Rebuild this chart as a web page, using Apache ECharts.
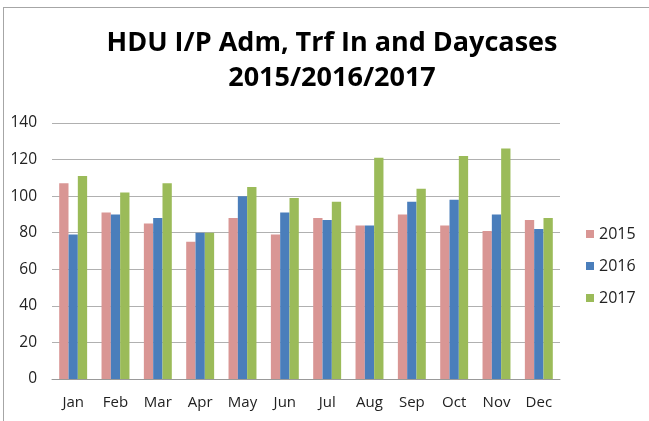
<!DOCTYPE html>
<html>
<head>
<meta charset="utf-8">
<script src="https://cdn.jsdelivr.net/npm/echarts@6/dist/echarts.min.js"></script>
<style>
  html, body { margin: 0; padding: 0; background: #fff; }
  #frame { position: absolute; left: 3px; top: 7px; width: 660px; height: 430px;
           border-left: 1px solid #a6a6a6; border-top: 1px solid #a6a6a6; }
  #chart { position: absolute; left: 0; top: 0; width: 649px; height: 421px; }
</style>
</head>
<body>
<div id="frame"></div>
<div id="chart"></div>
<script>
var months = ['Jan', 'Feb', 'Mar', 'Apr', 'May', 'Jun', 'Jul', 'Aug', 'Sep', 'Oct', 'Nov', 'Dec'];
var y2015 = [107, 91, 85, 75, 88, 79, 88, 84, 90, 84, 81, 87];
var y2016 = [79, 90, 88, 80, 100, 91, 87, 84, 97, 98, 90, 82];
var y2017 = [111, 102, 107, 80, 105, 99, 97, 121, 104, 122, 126, 88];

var chart = echarts.init(document.getElementById('chart'));
var font = '"Open Sans", sans-serif';

/* one bar series per year */
function bars(name, data, color) {
  return {
    name: name,
    type: 'bar',
    data: data,
    color: color,
    barGap: '0%',
    barCategoryGap: '34%'
  };
}

var option = {
  animation: false,
  title: {
    text: 'HDU I/P Adm, Trf In and Daycases\n2015/2016/2017',
    left: 327,
    top: 21,
    textAlign: 'center',
    textStyle: { fontFamily: font, fontSize: 27, fontWeight: 'bold', color: '#000', lineHeight: 35 }
  },
  legend: {
    orient: 'vertical',
    left: 581,
    top: 221,
    itemWidth: 8,
    itemHeight: 8,
    itemGap: 16,
    icon: 'rect',
    textStyle: { fontFamily: font, fontSize: 16, color: '#222' },
    data: ['2015', '2016', '2017']
  },
  grid: { left: 52, right: 89, top: 123, bottom: 42 },
  xAxis: {
    type: 'category',
    data: months,
    axisTick: { show: false },
    axisLine: { lineStyle: { color: '#999' } },
    axisLabel: { fontFamily: font, fontSize: 15, color: '#222', margin: 16 }
  },
  yAxis: {
    type: 'value',
    min: 0,
    max: 140,
    interval: 20,
    axisLabel: { fontFamily: font, fontSize: 15.5, color: '#222', margin: 15 },
    splitLine: { lineStyle: { color: '#b0b0b0' } }
  },
  series: [
    bars('2015', y2015, '#d99694'),
    bars('2016', y2016, '#4a7ebb'),
    bars('2017', y2017, '#9bbb59')
  ]
};
chart.setOption(option);
</script>
</body>
</html>
